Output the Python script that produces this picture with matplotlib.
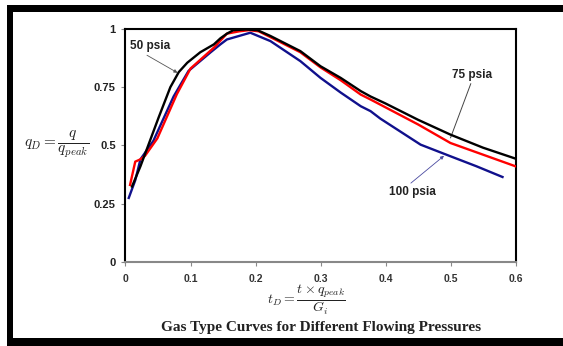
import matplotlib
matplotlib.use("Agg")
import matplotlib.pyplot as plt
from matplotlib.patches import Rectangle

# 50 psia (black)
t_50 = [0.010, 0.023, 0.035, 0.051, 0.069, 0.082, 0.095, 0.115, 0.136, 0.146,
        0.156, 0.166, 0.185, 0.203, 0.223, 0.269, 0.300, 0.331, 0.362, 0.377,
        0.400, 0.450, 0.500, 0.550, 0.600]
q_50 = [0.323, 0.410, 0.500, 0.620, 0.750, 0.815, 0.855, 0.900, 0.934, 0.960,
        0.980, 0.995, 0.998, 0.995, 0.970, 0.905, 0.840, 0.790, 0.733, 0.710,
        0.680, 0.610, 0.546, 0.490, 0.443]

# 75 psia (red)
t_75 = [0.007, 0.015, 0.023, 0.030, 0.049, 0.079, 0.100, 0.136, 0.156, 0.175,
        0.190, 0.205, 0.223, 0.269, 0.300, 0.331, 0.362, 0.377, 0.450, 0.500,
        0.550, 0.600]
q_75 = [0.330, 0.430, 0.440, 0.455, 0.530, 0.720, 0.830, 0.920, 0.980, 0.990,
        0.995, 0.990, 0.965, 0.900, 0.835, 0.780, 0.718, 0.697, 0.590, 0.510,
        0.460, 0.410]

# 100 psia (blue)
t_100 = [0.005, 0.015, 0.023, 0.043, 0.056, 0.074, 0.097, 0.131, 0.146, 0.156,
         0.187, 0.192, 0.223, 0.269, 0.300, 0.331, 0.362, 0.377, 0.392, 0.454,
         0.500, 0.540, 0.580]
q_100 = [0.274, 0.350, 0.440, 0.520, 0.600, 0.710, 0.820, 0.900, 0.934, 0.955,
         0.980, 0.984, 0.948, 0.862, 0.790, 0.727, 0.668, 0.647, 0.615, 0.503,
         0.453, 0.410, 0.364]

x_ticks = [0, 0.1, 0.2, 0.3, 0.4, 0.5, 0.6]
x_tick_labels = ["0", "0.1", "0.2", "0.3", "0.4", "0.5", "0.6"]
y_ticks = [0, 0.25, 0.5, 0.75, 1]
y_tick_labels = ["0", "0.25", "0.5", "0.75", "1"]

W, H = 563, 346
fig = plt.figure(figsize=(W / 100, H / 100), dpi=100)
fig.patch.set_facecolor("white")

# black frame (left, top, bottom bars)
for x0, y0, w, h in [(7, 0, 6, 341), (7, 334, 556, 7), (7, 0, 556, 8)]:
    fig.add_artist(Rectangle((x0 / W, y0 / H), w / W, h / H,
                             transform=fig.transFigure, color="black", lw=0))

ax = fig.add_axes([125.5 / W, (H - 261.7) / H, 390 / W, 232.7 / H])

ax.plot(t_100, q_100, color="#10108c", lw=1.7, zorder=3)
ax.plot(t_75, q_75, color="#ff0000", lw=1.7, zorder=4)
ax.plot(t_50, q_50, color="black", lw=1.7, zorder=5)

ax.set_xlim(0, 0.6)
ax.set_ylim(0, 1)
ax.set_xticks(x_ticks)
ax.set_xticklabels(x_tick_labels, fontsize=7.5, fontweight="bold",
                   family="Liberation Sans", color="#333333")
ax.set_yticks(y_ticks)
ax.set_yticklabels(y_tick_labels, fontsize=8, fontweight="bold",
                   family="Liberation Sans", color="#222222")
ax.tick_params(axis="both", direction="out", length=3, width=0.8, color="#888888")
ax.tick_params(axis="x", pad=6)
ax.tick_params(axis="y", pad=4)

for side in ["top", "right", "left"]:
    ax.spines[side].set_color("black")
    ax.spines[side].set_linewidth(1.5)
ax.spines["bottom"].set_color("#888888")
ax.spines["bottom"].set_linewidth(1.5)

# annotations
ann_kw = dict(fontsize=8.5, fontweight="bold", family="Liberation Sans", color="#222222")
ax.annotate("50 psia", xy=(0.080, 0.812), xytext=(0.007, 0.925),
            ha="left", va="center",
            arrowprops=dict(arrowstyle="-|>", color="#555555", lw=0.6,
                            mutation_scale=5, shrinkA=0, shrinkB=0,
                            relpos=(0.3, 0.0)), **ann_kw)
ax.annotate("75 psia", xy=(0.500, 0.532), xytext=(0.502, 0.803),
            ha="left", va="center",
            arrowprops=dict(arrowstyle="-", color="#444444", lw=0.7,
                            shrinkA=0, shrinkB=0, relpos=(0.5, 0.0)), **ann_kw)
ax.annotate("100 psia", xy=(0.490, 0.455), xytext=(0.405, 0.300),
            ha="left", va="center",
            arrowprops=dict(arrowstyle="-|>", color="#4a4aa0", lw=0.6,
                            mutation_scale=5, shrinkA=0, shrinkB=0,
                            relpos=(0.4, 1.0)), **ann_kw)

plt.rcParams["mathtext.fontset"] = "cm"
fig.text(57 / W, 1 - 145 / H, r"$q_D = \dfrac{q}{q_{peak}}$",
         ha="center", va="center", fontsize=11, color="#222222")
fig.text(306 / W, 1 - 300 / H, r"$t_D = \dfrac{t \times q_{peak}}{G_i}$",
         ha="center", va="center", fontsize=10, color="#222222")
fig.text(321 / W, 1 - 327 / H, "Gas Type Curves for Different Flowing Pressures",
         ha="center", va="center", fontsize=11, fontweight="bold",
         family="Liberation Serif", color="#222222")

fig.savefig("out.png", dpi=100)
